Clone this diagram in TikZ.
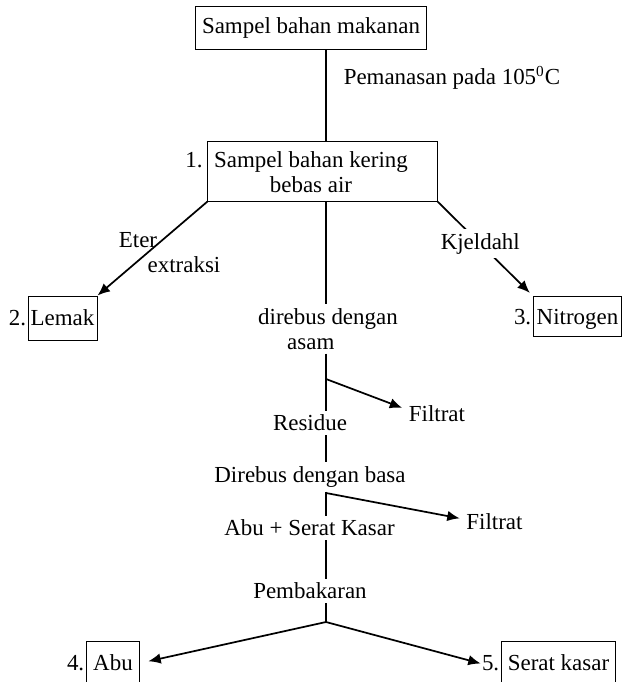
\documentclass[tikz,border=0pt]{standalone}
\usepackage{fontspec}
\setmainfont{Liberation Serif}
\usetikzlibrary{arrows.meta}

\begin{document}
\begin{tikzpicture}[x=0.523pt,y=-0.523pt,>={Latex[length=6.5pt,width=5.5pt]},
    font=\fontsize{12}{13}\selectfont,
    kotak/.style={draw,line width=0.5pt,inner sep=1pt},
    ket/.style={inner xsep=1pt,inner ysep=2pt},
    nomor/.style={inner sep=0.5pt},
    panah/.style={->,line width=0.9pt},
    garis/.style={line width=0.6pt}]
\useasboundingbox (0,0) rectangle (624,682);
\coordinate (sp) at (326,0);

\node[kotak,minimum width=121.3pt,minimum height=22.5pt] (sampel) at (311,27.5) {Sampel bahan makanan};
\node[anchor=west] (panas) at (337,78) {Pemanasan pada 105\textsuperscript{0}C};

\node[kotak,minimum width=119.8pt,minimum height=31.4pt] (kering) at (322.5,171) {};
\node[align=center] (keringtxt) at (311,172) {Sampel bahan kering\\bebas air};
\node[nomor,anchor=east] (n1) at (204,160) {1.};

\node[kotak,minimum width=36.1pt,minimum height=23pt] (lemak) at (62.5,318) {Lemak};
\node[nomor,anchor=base east] (n2) at (lemak.base west) {2.};
\node[kotak,text depth=0pt,minimum width=46.5pt,minimum height=21.4pt] (nitrogen) at (577.5,316.5) {Nitrogen};
\node[nomor,anchor=base east] (n3) at (nitrogen.base west) {3.};
\node (eter) at (138,240) {Eter};
\node (ekstraksi) at (184,265) {extraksi};

\node[align=center,ket] (asam) at (328,329) {direbus dengan\\\hspace*{-18pt}asam};
\node[ket] (residu) at (310,423) {Residue};
\node[ket] (basa) at (310,477) {Direbus dengan basa};
\node[ket] (abuserat) at (309.5,528) {Abu + Serat Kasar};
\node[ket] (bakar) at (310,591) {Pembakaran};
\node (filtrat1) at (437,414) {Filtrat};
\node (filtrat2) at (494.5,522) {Filtrat};

\coordinate (j1) at (326,379);
\coordinate (j2) at (326,493);
\coordinate (j3) at (326,622);

\node[kotak,minimum width=28.2pt,minimum height=22pt] (abu) at (113,663) {Abu};
\node[nomor,anchor=base east] (n4) at (abu.base west) {4.};
\node[kotak,minimum width=60.1pt,minimum height=22pt] (serat) at (558.5,663) {Serat kasar};
\node[nomor,anchor=base east] (n5) at (serat.base west) {5.};

\draw[garis] (sampel.south -| sp) -- (kering.north -| sp);
\draw[garis] (kering.south -| sp) -- (asam.north -| sp);
\draw[garis] (asam.south -| sp) -- (residu.north -| sp);
\draw[garis] (residu.south -| sp) -- (basa.north -| sp);
\draw[garis] (basa.south -| sp) -- (abuserat.north -| sp);
\draw[garis] (abuserat.south -| sp) -- (bakar.north -| sp);
\draw[garis] (bakar.south -| sp) -- (j3);

\draw[panah] (kering.south west) -- (lemak.north east);
\draw[panah,shorten >=2pt] (kering.south east) -- node[pos=0.45,fill=white,inner ysep=2.2pt,inner xsep=1pt] (kjeldahl) {Kjeldahl} (nitrogen.north west);
\draw[panah] (j1) -- (filtrat1.170);
\draw[panah] (j2) -- (filtrat2.174);
\draw[panah,shorten >=4.2pt] (j3) -- (abu.east);
\draw[panah] (j3) -- (n5.west);
\end{tikzpicture}
\end{document}
